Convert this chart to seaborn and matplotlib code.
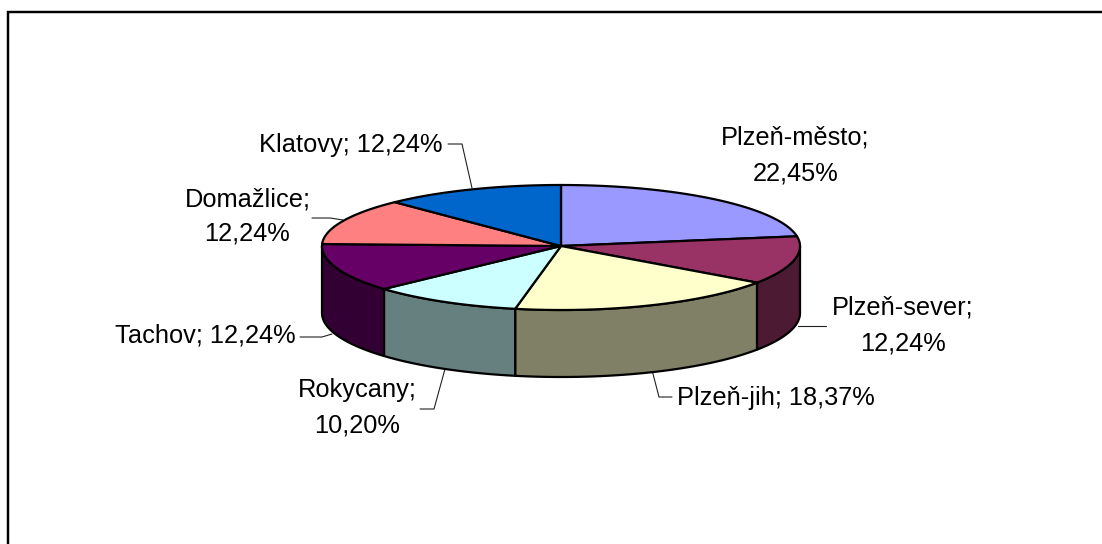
import numpy as np
import matplotlib
matplotlib.use("Agg")
import matplotlib.pyplot as plt
import seaborn as sns

districts = ["Plzeň-město", "Plzeň-sever", "Plzeň-jih", "Rokycany", "Tachov", "Domažlice", "Klatovy"]
shares = [22.45, 12.24, 18.37, 10.20, 12.24, 12.24, 12.24]
top_colors = ["#9999FF", "#993366", "#FFFFCC", "#CCFFFF", "#660066", "#FF8080", "#0066CC"]
side_colors = ["#4D4D80", "#4D1A33", "#808066", "#668080", "#330033", "#804040", "#003366"]

# label text layout: (centre x, first baseline y, second baseline y or None)
label_layout = [
    (795.5, 144, 180), (902.5, 315, 350), (776, 405, None), (357, 397, 433),
    (205.5, 343, None), (247.5, 207, 241), (351, 152, None),
]
leaders = [
    None,
    [(798, 326), (826, 326)],
    [(652, 370), (659, 397), (672, 397)],
    [(445, 369), (434, 409), (420, 409)],
    [(332, 334), (322, 337), (300, 337)],
    [(343, 220), (330, 218), (312, 218)],
    [(472, 188), (462, 144), (448, 144)],
]

CX, CY, RX, RY_BACK, RY_FRONT, DEPTH = 561, 246, 239, 61, 64, 67

sns.set_theme(style="white")
plt.rcParams["font.family"] = ["Liberation Sans", "DejaVu Sans"]
fig = plt.figure(figsize=(11.02, 5.44), dpi=100)
ax = fig.add_axes([0, 0, 1, 1])
ax.set_xlim(0, 1102)
ax.set_ylim(544, 0)
ax.axis("off")


def rim(deg):
    t = np.radians(deg)
    c = np.cos(t)
    return CX + RX * np.sin(t), CY - np.where(c > 0, RY_BACK, RY_FRONT) * c


# frame: top and left edges only
ax.plot([8.2, 8.2, 1102], [544, 12.3, 12.3], color="black", lw=1.75, solid_joinstyle="miter", zorder=1)

fractions = np.array(shares) / sum(shares)
edges = np.concatenate([[0], np.cumsum(fractions) * 360])

for i in range(len(shares)):
    a, b = max(edges[i], 90), min(edges[i + 1], 270)
    if a >= b:
        continue
    xs, ys = rim(np.linspace(a, b, 120))
    ax.fill(np.r_[xs, xs[::-1]], np.r_[ys, ys[::-1] + DEPTH], facecolor=side_colors[i],
            edgecolor="black", lw=1.6, joinstyle="round", zorder=2)

for i in range(len(shares)):
    xs, ys = rim(np.linspace(edges[i], edges[i + 1], 160))
    ax.fill(np.r_[CX, xs], np.r_[CY, ys], facecolor=top_colors[i],
            edgecolor="black", lw=1.6, joinstyle="round", zorder=3)

FS = 18.3
for name, share, (x, y1, y2), leader in zip(districts, shares, label_layout, leaders):
    value = f"{share:.2f}".replace(".", ",") + "%"
    if y2 is not None:
        ax.text(x, y1, name + ";", ha="center", va="baseline", fontsize=FS, color="black", zorder=5)
        ax.text(x, y2, value, ha="center", va="baseline", fontsize=FS, color="black", zorder=5)
    else:
        ax.text(x, y1, f"{name}; {value}", ha="center", va="baseline", fontsize=FS, color="black", zorder=5)
    if leader:
        lx, ly = zip(*leader)
        ax.plot(lx, ly, color="#222222", lw=0.8, zorder=1.5)

fig.savefig("out.png", dpi=100, facecolor="white")
